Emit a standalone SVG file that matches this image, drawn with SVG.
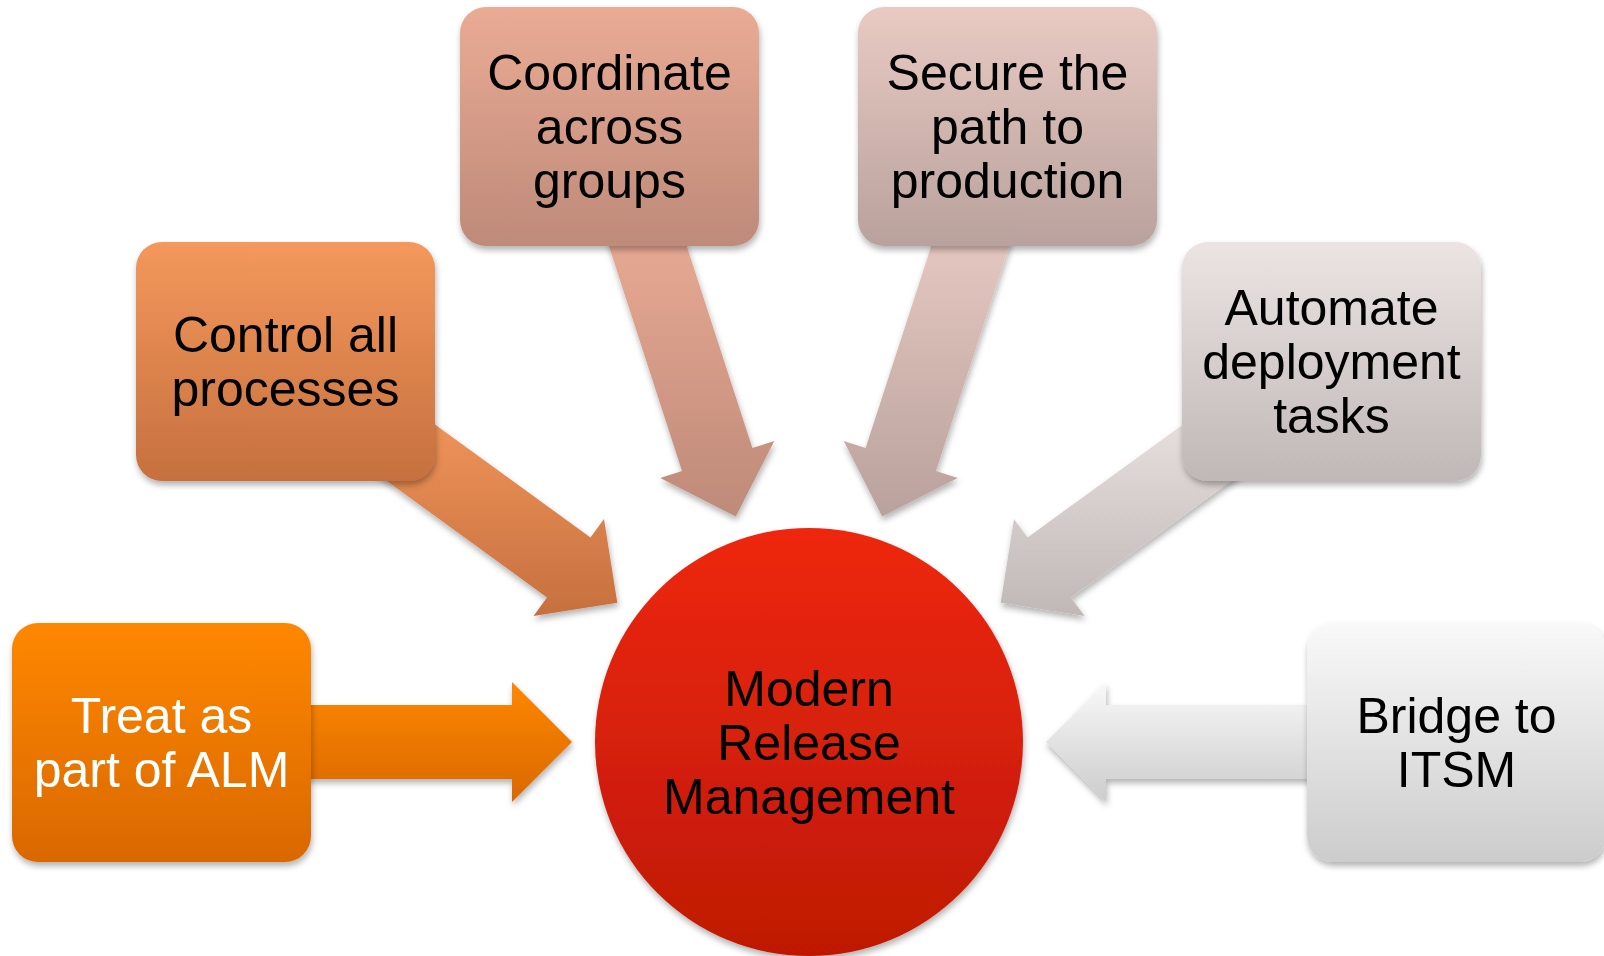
<svg xmlns="http://www.w3.org/2000/svg" width="1604" height="956" viewBox="0 0 1604 956">
<defs>
<style>
.t{font-family:"Liberation Sans",Arial,sans-serif;font-size:50px;text-anchor:middle;fill:#000}
.w{fill:#fff}
.sh{filter:url(#ds)}
</style>
<filter id="ds" x="-20%" y="-20%" width="140%" height="140%">
<feDropShadow dx="1" dy="4" stdDeviation="3" flood-color="#000" flood-opacity="0.3"/>
</filter>
<linearGradient id="gA" x1="0" y1="0" x2="0" y2="1"><stop offset="0" stop-color="#FF8700"/><stop offset="1" stop-color="#D96800"/></linearGradient>
<linearGradient id="gB" x1="0" y1="0" x2="0" y2="1"><stop offset="0" stop-color="#F4985C"/><stop offset="1" stop-color="#C6703F"/></linearGradient>
<linearGradient id="gC" x1="0" y1="0" x2="0" y2="1"><stop offset="0" stop-color="#EAAB95"/><stop offset="1" stop-color="#BE8A79"/></linearGradient>
<linearGradient id="gD" x1="0" y1="0" x2="0" y2="1"><stop offset="0" stop-color="#E8CAC2"/><stop offset="1" stop-color="#B9A19D"/></linearGradient>
<linearGradient id="gE" x1="0" y1="0" x2="0" y2="1"><stop offset="0" stop-color="#ECE4E2"/><stop offset="1" stop-color="#BFB8B6"/></linearGradient>
<linearGradient id="gF" x1="0" y1="0" x2="0" y2="1"><stop offset="0" stop-color="#F9F9F9"/><stop offset="1" stop-color="#CCCCCC"/></linearGradient>
<linearGradient id="gR" x1="0" y1="0" x2="0" y2="1"><stop offset="0" stop-color="#EE270D"/><stop offset="1" stop-color="#BE1905"/></linearGradient>
</defs>
<rect width="1604" height="956" fill="#fff"/>
<g id="connectors">
<polygon class="sh" fill="url(#gA)" points="572,742 512,682 512,705 269,705 269,779 512,779 512,802"/>
<polygon class="sh" fill="url(#gB)" points="617.3,602.7 604,518.9 590.5,537.5 393.9,394.7 350.4,454.5 547,597.4 533.5,616"/>
<polygon class="sh" fill="url(#gC)" points="735.8,516.6 774.3,441 752.4,448.1 677.3,217 606.9,239.9 682,471 660.2,478.1"/>
<polygon class="sh" fill="url(#gD)" points="882.2,516.6 957.8,478.1 936,471 1011.1,239.9 940.7,217 865.6,448.1 843.7,441"/>
<polygon class="sh" fill="url(#gE)" points="1000.7,602.7 1084.6,616 1071,597.4 1267.6,454.5 1224.1,394.7 1027.5,537.5 1014,518.9"/>
<polygon class="sh" fill="url(#gF)" points="1046,742 1106,802 1106,779 1349,779 1349,705 1106,705 1106,682"/>
</g>
<g id="center">
<circle class="sh" cx="809" cy="742" r="214" fill="url(#gR)"/>
<text class="t" x="809" y="705.5">Modern</text>
<text class="t" x="809" y="759.5">Release</text>
<text class="t" x="809" y="813.5">Management</text>
</g>
<g id="alm">
<rect class="sh" x="12" y="623" width="299" height="239" rx="26" fill="url(#gA)"/>
<text class="t w" x="161.5" y="732.5">Treat as</text>
<text class="t w" x="161.5" y="786.5">part of ALM</text>
</g>
<g id="control">
<rect class="sh" x="136" y="242" width="299" height="239" rx="26" fill="url(#gB)"/>
<text class="t" x="285.5" y="352">Control all</text>
<text class="t" x="285.5" y="406">processes</text>
</g>
<g id="coordinate">
<rect class="sh" x="460" y="7" width="299" height="239" rx="26" fill="url(#gC)"/>
<text class="t" x="609.5" y="90">Coordinate</text>
<text class="t" x="609.5" y="144">across</text>
<text class="t" x="609.5" y="198">groups</text>
</g>
<g id="secure">
<rect class="sh" x="858" y="7" width="299" height="239" rx="26" fill="url(#gD)"/>
<text class="t" x="1007.5" y="90">Secure the</text>
<text class="t" x="1007.5" y="144">path to</text>
<text class="t" x="1007.5" y="198">production</text>
</g>
<g id="automate">
<rect class="sh" x="1182" y="242" width="299" height="239" rx="26" fill="url(#gE)"/>
<text class="t" x="1331.5" y="325">Automate</text>
<text class="t" x="1331.5" y="379">deployment</text>
<text class="t" x="1331.5" y="433">tasks</text>
</g>
<g id="bridge">
<rect class="sh" x="1307" y="623" width="299" height="239" rx="26" fill="url(#gF)"/>
<text class="t" x="1456.5" y="732.5">Bridge to</text>
<text class="t" x="1456.5" y="786.5">ITSM</text>
</g>
</svg>
